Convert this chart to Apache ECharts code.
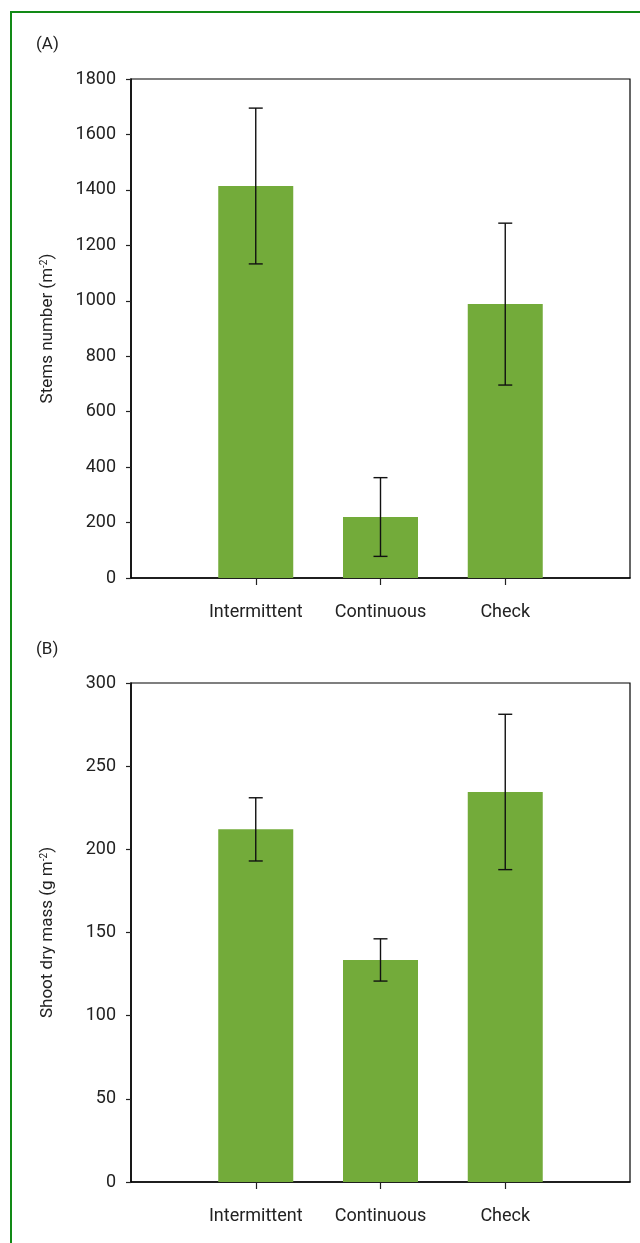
<!DOCTYPE html>
<html>
<head>
<meta charset="utf-8">
<script src="https://cdn.jsdelivr.net/npm/echarts@6/dist/echarts.min.js"></script>
<style>
html,body{margin:0;padding:0;background:#fff;}
#chart{width:640px;height:1243px;}
</style>
</head>
<body>
<div id="chart"></div>
<script>
// ---- data ----
const categories = ['Intermittent', 'Continuous', 'Check'];
const stemsValues = [1414, 220, 988];
const stemsErrors = [281, 142, 292];
const massValues = [212, 133.5, 234.5];
const massErrors = [19, 12.7, 46.7];
const stemsTicks = { min: 0, max: 1800, interval: 200 };
const massTicks = { min: 0, max: 300, interval: 50 };

// padded category list so bars sit at slots 1..3 of 0..4
const paddedCats = [' ', ...categories, '  '];

const FONT = 'Roboto';
const TXT = '#222';
const BAR = '#73ab3a';

const chart = echarts.init(document.getElementById('chart'), null, { renderer: 'canvas' });

function barData(vals) { return categories.map((c, i) => [c, vals[i]]); }
function errData(vals, errs) { return categories.map((c, i) => [c, vals[i] - errs[i], vals[i] + errs[i]]); }

function errRender(params, api) {
  const x = api.value(0);
  const lo = api.coord([x, api.value(1)]);
  const hi = api.coord([x, api.value(2)]);
  const cap = 7;
  const style = { stroke: '#111', lineWidth: 1.4 };
  return {
    type: 'group',
    children: [
      { type: 'line', shape: { x1: hi[0], y1: hi[1], x2: lo[0], y2: lo[1] }, style },
      { type: 'line', shape: { x1: hi[0] - cap, y1: hi[1], x2: hi[0] + cap, y2: hi[1] }, style },
      { type: 'line', shape: { x1: lo[0] - cap, y1: lo[1], x2: lo[0] + cap, y2: lo[1] }, style }
    ]
  };
}

function xAxisCfg(gi) {
  return {
    type: 'category', gridIndex: gi, data: paddedCats, boundaryGap: false,
    axisLine: { show: true, lineStyle: { color: '#000', width: 1.5 } },
    axisTick: { show: true, length: 7, interval: (idx) => idx >= 1 && idx <= 3, lineStyle: { color: '#222', width: 1.2 } },
    axisLabel: { interval: (idx) => idx >= 1 && idx <= 3, margin: 25, fontFamily: FONT, fontSize: 18, color: TXT },
    splitLine: { show: false }
  };
}

function yAxisCfg(gi, t, nameParts, gap) {
  return {
    type: 'value', gridIndex: gi, min: t.min, max: t.max, interval: t.interval,
    name: '{a|' + nameParts[0] + '}{s|-2}{a|' + nameParts[1] + '}',
    nameLocation: 'middle', nameGap: gap, nameRotate: 90,
    nameTextStyle: {
      rich: {
        a: { fontFamily: FONT, fontSize: 17, color: TXT },
        s: { fontFamily: FONT, fontSize: 10, color: TXT, verticalAlign: 'top', padding: [0, 0, 8, 0] }
      }
    },
    axisLine: { show: true, lineStyle: { color: '#000', width: 1.5 } },
    axisTick: { show: true, length: 5, inside: false, lineStyle: { color: '#222', width: 1.2 } },
    axisLabel: { margin: 15, fontFamily: FONT, fontSize: 18, color: TXT, formatter: (v) => String(v) },
    splitLine: { show: false }
  };
}

const option = {
  animation: false,
  backgroundColor: '#fff',
  graphic: [
    { type: 'rect', shape: { x: 11, y: 12, width: 700, height: 1300 }, style: { fill: 'none', stroke: '#128a16', lineWidth: 2 }, z: 100 },
    { type: 'text', left: 36, top: 36, style: { text: '(A)', fontFamily: FONT, fontSize: 17, fill: TXT } },
    { type: 'text', left: 36, top: 641, style: { text: '(B)', fontFamily: FONT, fontSize: 17, fill: TXT } }
  ],
  grid: [
    { left: 131, top: 79, width: 499, height: 499, show: true, borderColor: '#000', borderWidth: 1.2, backgroundColor: 'transparent' },
    { left: 131, top: 683, width: 499, height: 499, show: true, borderColor: '#000', borderWidth: 1.2, backgroundColor: 'transparent' }
  ],
  xAxis: [xAxisCfg(0), xAxisCfg(1)],
  yAxis: [
    yAxisCfg(0, stemsTicks, ['Stems number (m', ')'], 74),
    yAxisCfg(1, massTicks, ['Shoot dry mass (g m', ')'], 74)
  ],
  series: [
    { type: 'bar', xAxisIndex: 0, yAxisIndex: 0, data: barData(stemsValues), barWidth: 75, itemStyle: { color: BAR } },
    { type: 'custom', xAxisIndex: 0, yAxisIndex: 0, data: errData(stemsValues, stemsErrors), renderItem: errRender, z: 10 },
    { type: 'bar', xAxisIndex: 1, yAxisIndex: 1, data: barData(massValues), barWidth: 75, itemStyle: { color: BAR } },
    { type: 'custom', xAxisIndex: 1, yAxisIndex: 1, data: errData(massValues, massErrors), renderItem: errRender, z: 10 }
  ]
};
chart.setOption(option);
</script>
</body>
</html>
